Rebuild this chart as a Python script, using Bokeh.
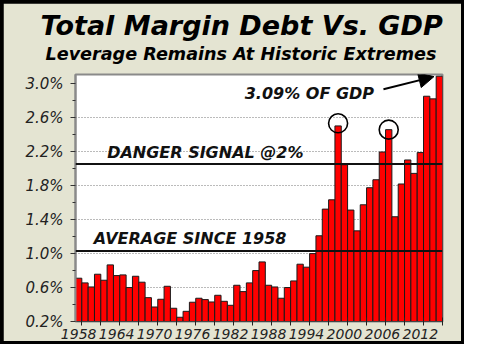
from bokeh.plotting import figure
from bokeh.layouts import column
from bokeh.models import (Range1d, FixedTicker, Span, Label, Arrow, NormalHead,
                          Title, ColumnDataSource, CustomJSTickFormatter)
from bokeh.embed import file_html
from bokeh.resources import INLINE

# ---- data ----
years = list(range(1958, 2016))
margin_pct = [
    0.71, 0.655, 0.607, 0.757, 0.686, 0.867, 0.741, 0.749, 0.60, 0.733,
    0.663, 0.481, 0.371, 0.462, 0.615, 0.356, 0.25, 0.32, 0.427, 0.474,
    0.458, 0.43, 0.509, 0.438, 0.391, 0.627, 0.552, 0.655, 0.80, 0.902,
    0.627, 0.607, 0.474, 0.60, 0.678, 0.875, 0.84, 1.00, 1.21, 1.524,
    1.634, 2.504, 2.047, 1.513, 1.268, 1.575, 1.776, 1.87, 2.197, 2.46,
    1.434, 1.82, 2.103, 1.945, 2.19, 2.854, 2.823, 3.09,
]
danger_level = 2.056
average_level = 1.032
circle_years = [1999, 2007]
circle_values = [2.535, 2.46]
x_label_years = list(range(1958, 2013, 6))
y_ticks = [0.2, 0.6, 1.0, 1.4, 1.8, 2.2, 2.6, 3.0]
y_minor = [0.4, 0.8, 1.2, 1.6, 2.0, 2.4, 2.8]
grid_ticks = [0.6, 1.0, 1.4, 1.8, 2.2, 2.6]
y_start, y_end = 0.2, 3.11

FONT = "DejaVu Sans"
BG = "#e4e4d2"

src = ColumnDataSource(dict(year=years, pct=margin_pct))

p = figure(width=458, height=338, output_backend="svg", toolbar_location=None,
           x_range=Range1d(years[0] - 0.5, years[-1] + 0.5),
           y_range=Range1d(y_start, y_end),
           min_border_left=72, min_border_right=19, min_border_top=71, min_border_bottom=20,
           background_fill_color="white", border_fill_color=BG)
p.title.visible = False
p.outline_line_color = "#8a8a8a"
p.outline_line_width = 2

# grid
p.xgrid.visible = False
p.ygrid.ticker = FixedTicker(ticks=grid_ticks)
p.ygrid.grid_line_color = "#777777"
p.ygrid.grid_line_dash = "1 2"
p.ygrid.grid_line_width = 1

# bars
p.vbar(x="year", top="pct", bottom=y_start, width=1.0, source=src,
       fill_color="#ff0000", line_color="#1a1a1a", line_width=1)

# reference lines
p.add_layout(Span(location=danger_level, dimension="width", line_color="#111111", line_width=2))
p.add_layout(Span(location=average_level, dimension="width", line_color="#111111", line_width=2))

# circles around peaks
p.scatter(circle_years, circle_values, marker="circle", size=19, fill_color=None,
          line_color="black", line_width=1.6)

# annotations
lab_kw = dict(text_font=FONT, text_font_style="bold italic", text_font_size="16px",
              text_color="#111111", text_baseline="alphabetic")
p.add_layout(Label(x=1984.24, y=2.889, text="3.09% OF GDP", **lab_kw))
p.add_layout(Label(x=1962.5, y=2.189, text="DANGER SIGNAL @2%", **lab_kw))
p.add_layout(Label(x=1960.4, y=1.18, text="AVERAGE SINCE 1958", **lab_kw))
p.add_layout(Arrow(end=NormalHead(size=15, fill_color="black", line_color="black"),
                   x_start=2006.17, y_start=2.936, x_end=years[-1] - 0.85, y_end=margin_pct[-1] - 0.005,
                   line_color="black", line_width=2))

# axes
xa = p.xaxis[0]
xa.ticker = FixedTicker(ticks=x_label_years,
                        minor_ticks=[y + 0.5 for y in range(1958, 2016, 3)])
xa.major_tick_line_color = None
xa.major_tick_in = 0
xa.major_tick_out = 0
xa.minor_tick_line_color = "#222222"
xa.minor_tick_in = 4
xa.minor_tick_out = 4
xa.axis_line_color = "#444444"
xa.major_label_text_font = FONT
xa.major_label_text_font_style = "italic"
xa.major_label_text_font_size = "14px"
xa.major_label_text_color = "#222222"
xa.major_label_standoff = 3

ya = p.yaxis[0]
ya.ticker = FixedTicker(ticks=y_ticks, minor_ticks=y_minor)
ya.formatter = CustomJSTickFormatter(code="return tick.toFixed(1) + '%';")
ya.axis_line_color = "#8a8a8a"
ya.axis_line_width = 2
ya.major_tick_line_color = "#333333"
ya.major_tick_in = 0
ya.major_tick_out = 5
ya.minor_tick_line_color = "#333333"
ya.minor_tick_in = 0
ya.minor_tick_out = 3
ya.major_label_text_font = FONT
ya.major_label_text_font_style = "italic"
ya.major_label_text_font_size = "15px"
ya.major_label_text_color = "#222222"
ya.major_label_standoff = 7

# titles (subtitle first: closer to the frame)
p.add_layout(Title(text="Leverage Remains At Historic Extremes", align="left", offset=-30,
                   text_font=FONT, text_font_style="bold italic", text_font_size="17.6px",
                   text_color="#000000", standoff=21), "above")
p.add_layout(Title(text="Total Margin Debt Vs. GDP", align="left", offset=-35,
                   text_font=FONT, text_font_style="bold italic", text_font_size="27px",
                   text_color="#000000", standoff=-18), "above")

page = column(p, styles={"background-color": "black", "padding": "3px"})

open("out.html", "w").write(file_html(page, INLINE))
